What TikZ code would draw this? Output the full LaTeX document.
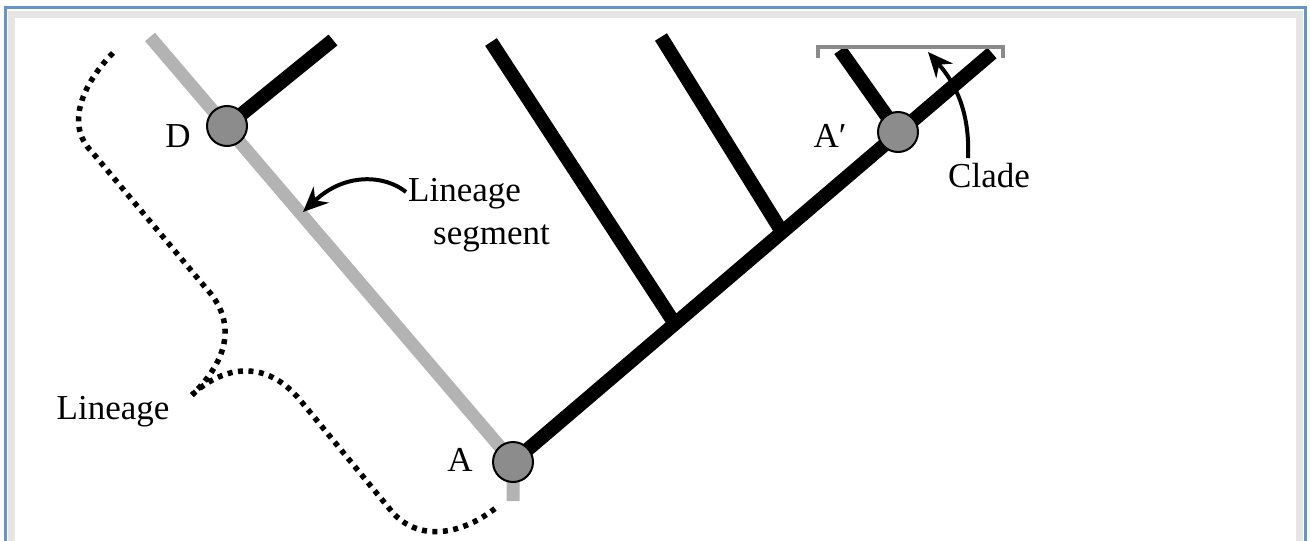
\documentclass[tikz,border=0pt]{standalone}
\usepackage{fontspec}
\setmainfont{Liberation Serif}
\usetikzlibrary{arrows.meta}
\definecolor{framecol}{HTML}{6495CD}
\definecolor{lingray}{HTML}{B3B3B3}
\definecolor{dotfill}{HTML}{8C8C8C}
\definecolor{bracketgray}{HTML}{8A8A8A}
\tikzset{
  lab/.style={font=\fontsize{35}{40}\selectfont, inner sep=0pt},
  dotnode/.style={circle, draw=black, line width=2pt, fill=dotfill, minimum size=40pt, inner sep=0pt},
  branch/.style={line width=14pt, black},
  lineageseg/.style={line width=13pt, lingray},
  dotted path/.style={line width=5.5pt, dash pattern=on 5pt off 5.5pt},
  pointer/.style={line width=4pt, -{Stealth[length=25pt, width=22pt]}},
}
\begin{document}
\begin{tikzpicture}[x=1pt,y=-1pt]
\useasboundingbox (0,0) rectangle (1310,541);
\fill[white] (0,0) rectangle (1310,541);
\begin{scope}
  \clip (0,0) rectangle (1310,541);
  \draw[black!10, line width=7pt] (11,14) rectangle (1299,620);
  \draw[framecol, line width=3pt] (5,7) rectangle (1305,620);
\end{scope}

% coordinates
\coordinate (A) at (513,462);
\coordinate (D) at (227,126);
\coordinate (Ap) at (898,132);
\coordinate (gtop) at (150,37);
\coordinate (gbot) at (513,501);
\coordinate (mtop) at (992,53);
\coordinate (b1) at (675,324);
\coordinate (b2) at (782,232);
\coordinate (t1) at (491,42);
\coordinate (t2) at (661,37);
\coordinate (tD) at (333,40);
\coordinate (tAp) at (840,50);

% lineage segment (gray)
\draw[lineageseg] (gtop) -- (A) -- (gbot);

% black branches
\draw[branch] (A) -- (mtop);
\draw[branch] (b1) -- (t1);
\draw[branch] (b2) -- (t2);
\draw[branch] (D) -- (tD);
\draw[branch] (Ap) -- (tAp);

% nodes
\node[dotnode] (nA) at (A) {};
\node[dotnode] (nD) at (D) {};
\node[dotnode] (nAp) at (Ap) {};

% clade bracket
\draw[bracketgray, line width=4pt] (818,58) -- (818,47) -- (1003,47) -- (1003,58);

% labels
\node[lab] (labD) at (178,136) {D};
\node[lab] (labA) at (460,460) {A};
\node[lab] (labAp) at (830,136) {A′};
\node[lab] (labClade) at (989,176) {Clade};
\node[lab] (labLin) at (113,412) {Lineage};
\node[lab, anchor=west] (labLS1) at (408,194) {Lineage};
\node[lab, anchor=west] (labLS2) at (433,238) {segment};

% arrows
\coordinate (cladeTip) at (928,52);
\coordinate (segTip) at (303,212);
\draw[pointer] (968,158) .. controls (970,115) and (957,85) .. (cladeTip);
\draw[pointer] (labLS1.west) ++(-2,-2) .. controls (385,175) and (345,172) .. (segTip);

% lineage dotted bracket
\coordinate (cusp) at (192,395);
\draw[dotted path] (113,53) .. controls (88,78) and (62,122) .. (92,152) -- (205,287) .. controls (238,322) and (228,360) .. (cusp);
\draw[dotted path] (cusp) .. controls (215,373) and (260,352) .. (300,400) -- (393,513) .. controls (420,542) and (462,535) .. (497,507);
\end{tikzpicture}
\end{document}
